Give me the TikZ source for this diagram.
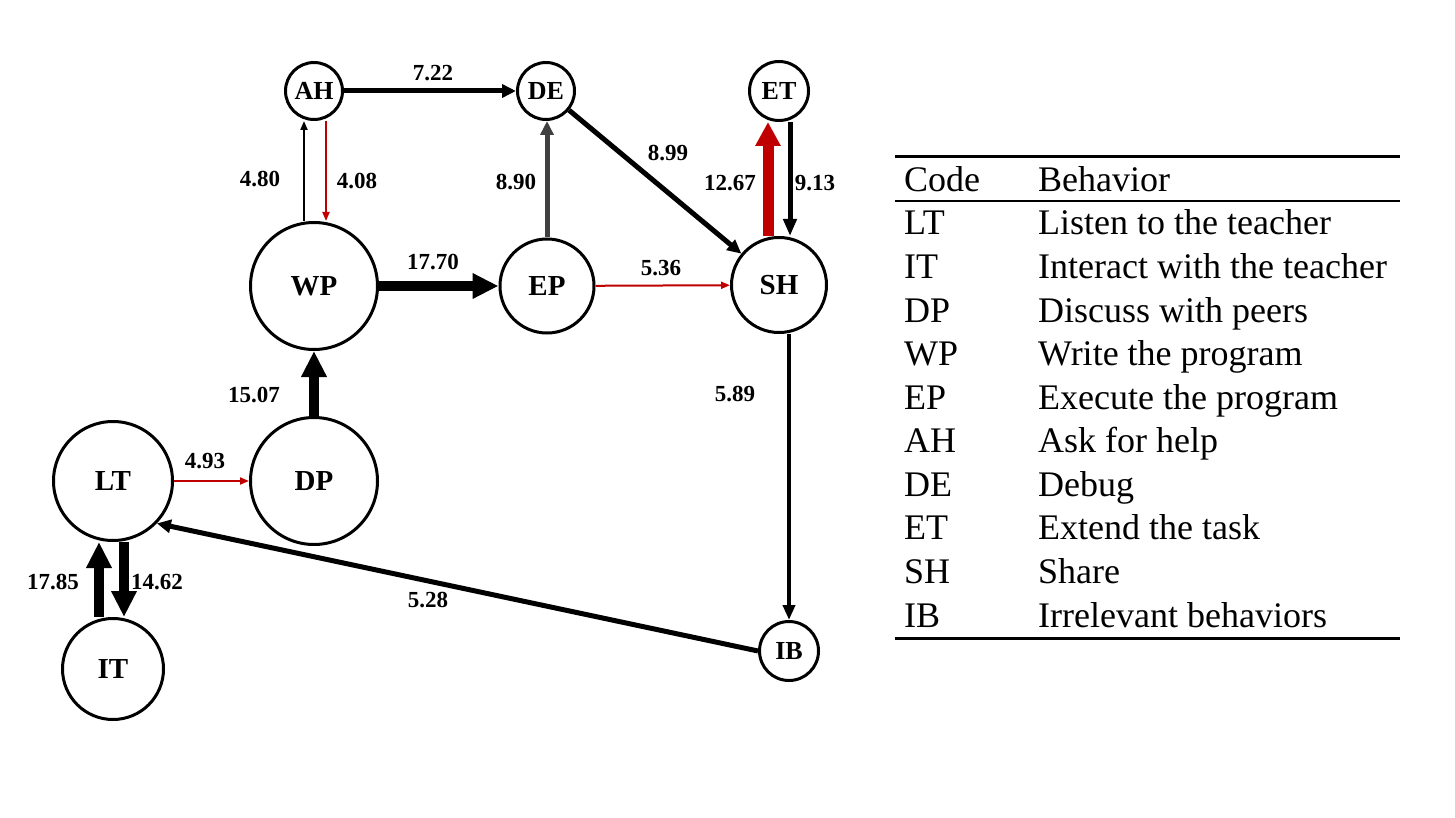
\documentclass[tikz,border=0pt]{standalone}
\usepackage{fontspec}
\setmainfont{Liberation Serif}
\usetikzlibrary{arrows.meta}
\definecolor{myred}{RGB}{192,0,0}
\definecolor{mygray}{RGB}{64,64,64}
\begin{document}
\begin{tikzpicture}[x=1pt,y=-1pt,
  stbig/.style={circle,draw,line width=3pt,inner sep=0pt,font=\fontsize{29}{32}\selectfont\bfseries},
  stsmall/.style={circle,draw,line width=3pt,inner sep=0pt,font=\fontsize{26}{30}\selectfont\bfseries},
  lab/.style={font=\fontsize{23}{26}\selectfont\bfseries,inner sep=0pt},
  tab/.style={font=\fontsize{36}{40}\selectfont,anchor=base west,inner sep=0pt},
  ethin/.style={line width=2pt,-{Triangle[length=9pt,width=7pt]}},
  emed/.style={line width=5pt,-{Triangle[length=14pt,width=13pt]}},
  ethick/.style={line width=10pt,-{Triangle[length=26pt,width=24pt]}},
]
\useasboundingbox (0,0) rectangle (1455,818);

% nodes
\node[stsmall,minimum size=57pt] (AH) at (314,91) {AH};
\node[stsmall,minimum size=57pt] (DE) at (546,91) {DE};
\node[stsmall,minimum size=59pt] (ET) at (779,91) {ET};
\node[stbig,minimum size=127pt] (WP) at (314,286) {WP};
\node[stbig,minimum size=94pt] (EP) at (547,286) {EP};
\node[stbig,minimum size=95pt] (SH) at (779,285) {SH};
\node[stbig,minimum size=119pt] (LT) at (113,481) {LT};
\node[stbig,minimum size=127pt] (DP) at (314,481) {DP};
\node[stbig,minimum size=101pt] (IT) at (113,669) {IT};
\node[stsmall,minimum size=59pt] (IB) at (789,651) {IB};

% edges
\draw[emed] (AH) -- (DE);
\draw[ethin] ([xshift=-10pt]WP.north) -- ([xshift=-10pt]AH.south);
\draw[ethin,myred] ([xshift=12pt]AH.south) -- ([xshift=12pt]WP.north);
\draw[emed,mygray] (EP.north) -- (EP.north |- DE.south);
\draw[emed] (DE) -- (SH);
\draw[ethick] (WP) -- (EP);
\draw[ethin,myred] (EP) -- (SH);
\draw[line width=11pt,myred,-{Triangle[length=24pt,width=24pt]}] ([xshift=-11pt]SH.north) -- ([xshift=-11pt]ET.south);
\draw[line width=5pt,-{Triangle[length=17pt,width=13pt]}] ([xshift=11pt]ET.south) -- ([xshift=11pt]SH.north);
\draw[ethick] (DP) -- (WP);
\draw[ethin,myred] (LT) -- (DP);
\draw[ethick] ([xshift=-14pt]IT.north) -- ([xshift=-14pt]LT.south);
\draw[ethick] ([xshift=11pt]LT.south) -- ([xshift=11pt]IT.north);
\draw[line width=4pt,-{Triangle[length=15pt,width=12pt]}] (IB.north |- SH.south) -- (IB.north);
\draw[emed] (IB.west) -- (LT.-44);

% edge labels
\node[lab] (l1) at (433,73) {7.22};
\node[lab] (l2) at (260,179) {4.80};
\node[lab] (l3) at (357,181) {4.08};
\node[lab] (l4) at (516,182) {8.90};
\node[lab] (l5) at (668,153) {8.99};
\node[lab] (l6) at (730,183) {12.67};
\node[lab] (l7) at (815,183) {9.13};
\node[lab] (l8) at (433,262) {17.70};
\node[lab] (l9) at (661,268) {5.36};
\node[lab] (l10) at (254,395) {15.07};
\node[lab] (l11) at (735,394) {5.89};
\node[lab] (l12) at (205,461) {4.93};
\node[lab] (l13) at (53,582) {17.85};
\node[lab] (l14) at (157,582) {14.62};
\node[lab] (l15) at (428,600) {5.28};

% table
\draw[line width=3pt] (895,157) -- (1400,157);
\draw[line width=1.5pt] (895,201) -- (1400,201);
\draw[line width=3pt] (895,638) -- (1400,638);
\node[tab] (c0) at (904,192) {Code};
\node[tab] (b0) at (1038,192) {Behavior};
\node[tab] (c1) at (904,235) {LT};
\node[tab] (b1) at (1038,235) {Listen to the teacher};
\node[tab] (c2) at (904,278.6) {IT};
\node[tab] (b2) at (1038,278.6) {Interact with the teacher};
\node[tab] (c3) at (904,322.1) {DP};
\node[tab] (b3) at (1038,322.1) {Discuss with peers};
\node[tab] (c4) at (904,365.7) {WP};
\node[tab] (b4) at (1038,365.7) {Write the program};
\node[tab] (c5) at (904,409.2) {EP};
\node[tab] (b5) at (1038,409.2) {Execute the program};
\node[tab] (c6) at (904,452.8) {AH};
\node[tab] (b6) at (1038,452.8) {Ask for help};
\node[tab] (c7) at (904,496.4) {DE};
\node[tab] (b7) at (1038,496.4) {Debug};
\node[tab] (c8) at (904,539.9) {ET};
\node[tab] (b8) at (1038,539.9) {Extend the task};
\node[tab] (c9) at (904,583.5) {SH};
\node[tab] (b9) at (1038,583.5) {Share};
\node[tab] (c10) at (904,627) {IB};
\node[tab] (b10) at (1038,627) {Irrelevant behaviors};
\end{tikzpicture}
\end{document}
